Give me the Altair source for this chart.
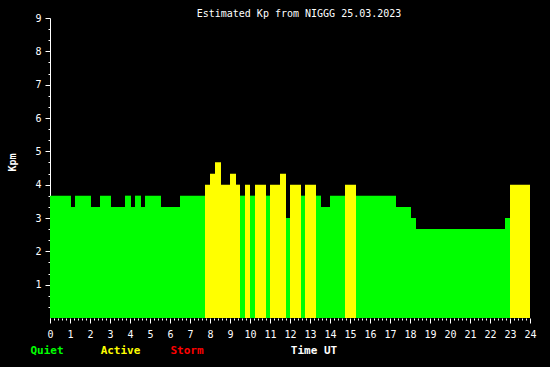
import altair as alt
import pandas as pd

# Segment edges (hours UT) and estimated Kp for each segment
edges = [0, 1.05, 1.25, 2.05, 2.5, 3.05, 3.75, 4.05, 4.25, 4.55,
         4.75, 5.55, 6.5, 7.75, 8.0, 8.25, 8.55, 9.0, 9.3, 9.5,
         9.75, 10.0, 10.25, 10.8, 11.0, 11.5, 11.8, 12.0, 12.55, 12.75,
         13.3, 13.55, 14.0, 14.75, 15.3, 17.3, 18.05, 18.3, 22.75, 23.0,
         24.0]
kp = [3.67, 3.33, 3.67, 3.33, 3.67, 3.33, 3.67, 3.33, 3.67, 3.33,
      3.67, 3.33, 3.67, 4.0, 4.33, 4.67, 4.0, 4.33, 4.0, 3.67,
      4.0, 3.67, 4.0, 3.67, 4.0, 4.33, 3.0, 4.0, 3.67, 4.0,
      3.67, 3.33, 3.67, 4.0, 3.67, 3.33, 3.0, 2.67, 3.0, 4.0]

levels = ["Quiet", "Active", "Storm"]
level_colors = ["#00ff00", "#ffff00", "#ff0000"]

x_ticks = [round(i * 0.2, 1) for i in range(0, 121)]
y_ticks = [i / 3 for i in range(1, 28)]

df = pd.DataFrame({"start": edges[:-1], "end": edges[1:], "kp": kp})
df["level"] = ["Storm" if v >= 5 else ("Active" if v >= 4 else "Quiet") for v in kp]

FONT = "DejaVu Sans Mono"
is_major = "abs(datum.value - round(datum.value)) < 0.001"

x_axis = alt.Axis(
    values=x_ticks,
    labelExpr=f"{is_major} ? format(round(datum.value), 'd') : ''",
    tickSize={"condition": {"test": is_major, "value": 5}, "value": 2},
    tickColor="white", labelColor="white", labelFont=FONT, labelFontSize=10,
    labelOverlap=False, labelFlush=False, labelPadding=6, domain=False,
    grid=False, title=None,
)
y_axis = alt.Axis(
    values=y_ticks,
    labelExpr=f"{is_major} ? format(round(datum.value), 'd') : ''",
    tickSize={"condition": {"test": is_major, "value": 5}, "value": 2},
    tickColor="white", labelColor="white", labelFont=FONT, labelFontSize=10,
    labelOverlap=False, labelFlush=False, labelPadding=4, domain=True,
    domainColor="white", grid=False,
    title="Kpm", titleColor="white", titleFont=FONT, titleFontSize=10,
    titleFontWeight="bold", titleX=-38, titleY=144, titleAlign="center",
    titleBaseline="middle", titleAngle=-90,
)

bars = alt.Chart(df).mark_rect(strokeWidth=0).encode(
    x=alt.X("start:Q", scale=alt.Scale(domain=[0, 24], nice=False, zero=False), axis=x_axis),
    x2="end:Q",
    y=alt.Y("kp:Q", scale=alt.Scale(domain=[0, 9], nice=False), axis=y_axis),
    y2=alt.datum(0),
    color=alt.Color("level:N", scale=alt.Scale(domain=levels, range=level_colors), legend=None),
)


def label(text, color, xpos):
    return alt.Chart(pd.DataFrame({"t": [text]})).mark_text(
        font=FONT, fontSize=11, fontWeight="bold", color=color,
        align="center", baseline="middle",
    ).encode(text="t:N", x=alt.value(xpos), y=alt.value(333))


chart = alt.layer(
    bars,
    label("Quiet", level_colors[0], -3),
    label("Active", level_colors[1], 70.5),
    label("Storm", level_colors[2], 137),
    label("Time UT", "white", 264),
).properties(
    width=480, height=300,
    padding={"left": 50, "top": 18, "right": 20, "bottom": 49},
    autosize=alt.AutoSizeParams(type="none"),
    background="black",
    title=alt.TitleParams(
        "Estimated Kp from NIGGG 25.03.2023", color="white", font=FONT,
        fontSize=10, fontWeight="normal", anchor="middle", dx=9, dy=7, offset=1,
    ),
).configure_view(stroke=None)

chart.save("out.html", embed_options={"renderer": "svg", "actions": False})
